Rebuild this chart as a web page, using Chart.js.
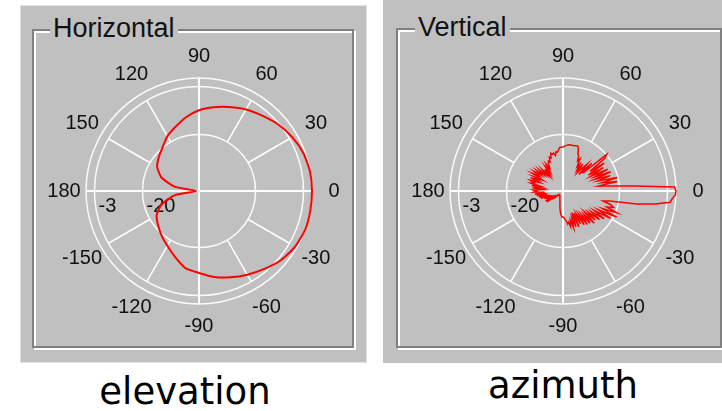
<!DOCTYPE html>
<html>
<head>
<meta charset="utf-8">
<script src="https://cdn.jsdelivr.net/npm/chart.js@4.4.1/dist/chart.umd.min.js"></script>
<style>
  body { margin: 0; width: 722px; height: 411px; background: #fff; position: relative; overflow: hidden;
         font-family: "Liberation Sans", Arial, sans-serif; }
  .panel { position: absolute; background: #c0c0c0; box-sizing: border-box; }
  .etch { position: absolute; box-sizing: border-box; border: 2px solid #808080; }
  .etch.hi { border-color: #fff; }
  .title { position: absolute; background: #c0c0c0; font-size: 27px; line-height: 27px; color: #111; padding: 0 3px; }
  .cap { position: absolute; font-family: "DejaVu Sans", sans-serif; font-size: 37px; line-height: 40px;
         color: #000; width: 300px; text-align: center; }
  canvas { position: absolute; }
</style>
</head>
<body>
<div class="panel" style="left:20px;top:5px;width:347px;height:358px;border:1px solid #e2e2e2;"></div>
<div class="etch hi" style="left:34px;top:31px;width:322px;height:319px;"></div>
<div class="etch" style="left:32px;top:29px;width:322px;height:319px;"></div>
<div class="title" style="left:50px;top:15px;">Horizontal</div>

<div class="panel" style="left:383px;top:0px;width:339px;height:363px;"></div>
<div class="etch hi" style="left:398px;top:30px;width:326px;height:320px;"></div>
<div class="etch" style="left:396px;top:28px;width:326px;height:320px;"></div>
<div class="title" style="left:415px;top:14px;">Vertical</div>

<canvas id="elev" width="340" height="340" style="left:29px;top:21px;"></canvas>
<canvas id="azim" width="340" height="340" style="left:393px;top:21px;"></canvas>

<div class="cap" style="left:35px;top:372px;">elevation</div>
<div class="cap" style="left:413px;top:366px;">azimuth</div>

<script>
// gain in dB, angle counted counter-clockwise from 0 (right)
const horizStep = 10;
const horizGain = [0, -0.1, -0.7, -1.9, -3.4, -5.2, -6.7, -8.4, -9.9, -11.4,
  -13.5, -15.8, -17.6, -19.9, -21.4, -22.9, -25.8, -31.2, -39, -31.2,
  -25.8, -22.7, -21.1, -19.4, -17.6, -15.2, -12.3, -11, -9.1, -7.5,
  -5.8, -4, -2, -0.7, 0, 0];

const vertStep = 2;
const vertGain = [0, -0.5, -14.6, -23.2, -27.3, -20.6, -25.9, -20.2, -27.1, -22.4,
  -28.2, -21.8, -27.6, -22.4, -28.8, -23.5, -29.4, -22.4, -28.2, -21.2,
  -19.8, -30.6, -25.9, -31.8, -27.1, -29.4, -31.8, -28.2, -31.2, -28.8,
  -30, -27.1, -28.2, -26.4, -25.9, -24.1, -23.2, -23.3, -23.5, -23.5,
  -23.5, -23.5, -23.6, -23.9, -24.1, -24.4, -24.5, -24.5, -25.3, -26.1,
  -25.9, -27.1, -26.1, -26.5, -26, -27.6, -27.1, -28.8, -28.2, -29.1,
  -30.6, -28.8, -31.8, -29.4, -32.4, -30, -32.9, -29.6, -31.8, -28.8,
  -31.2, -28.2, -30.6, -27.6, -30, -27.5, -31.8, -28.2, -30.6, -27.6,
  -31.2, -27.9, -29.4, -28.2, -31.8, -28.8, -32.4, -29.2, -32.9, -29.4,
  -30.6, -29.6, -33.5, -30, -32.9, -30.6, -34.1, -31.2, -34.7, -31.8,
  -35.3, -32.9, -35.9, -33.5, -36.5, -32.9, -37.1, -33.1, -36.5, -35.3,
  -37.1, -37.6, -37.9, -38, -38.1, -38.2, -38.2, -38.1, -38, -37.9,
  -37.9, -37.6, -37.4, -37.2, -37.1, -36.8, -36.5, -36.1, -35.5, -34.7,
  -33.9, -32.9, -32, -31.2, -30.8, -30.8, -30.6, -30, -29.4, -28.2,
  -28.8, -27.1, -29.4, -26.5, -30, -26.5, -31.8, -26.1, -31.2, -26.8,
  -30.6, -25.9, -30, -25.3, -29.4, -25.1, -28.8, -24.1, -29.4, -24.7,
  -28.2, -23.6, -27.6, -22.4, -27.1, -20.6, -25.9, -18.9, -24.7, -19.4,
  -23.5, -21.2, -22.4, -25.4, -23.1, -13.5, -7.1, -1.9, -1.2, -0.2];

const angleTicks = [0, 30, 60, 90, 120, 150, 180, -150, -120, -90, -60, -30];
const ringValues = [-40, -20, -3, 0];
const ringLabels = ['-20', '-3'];
const ringLabelValues = [-20, -3];

// radar runs clockwise from the right, so index i sits at angle -i*step
function toRadar(gain, step) {
  const n = gain.length;
  const labels = [], data = [];
  for (let i = 0; i < n; i++) {
    let a = -i * step;
    if (a <= -180) a += 360;
    labels.push(String(a));
    data.push(gain[(n - i) % n]);
  }
  return { labels, data };
}

const polarDecor = {
  id: 'polarDecor',
  beforeDatasetsDraw(chart) {
    const s = chart.scales.r;
    const ctx = chart.ctx;
    const n = chart.data.labels.length;
    const step = 360 / n;
    ctx.save();
    ctx.strokeStyle = '#fff';
    angleTicks.forEach(a => {
      const i = ((Math.round(-a / step) % n) + n) % n;
      const full = a % 90 === 0;
      const p0 = s.getPointPositionForValue(i, full ? -40 : -20);
      const p1 = s.getPointPositionForValue(i, full ? 0 : -3);
      ctx.lineWidth = full ? 2 : 1.5;
      ctx.beginPath();
      ctx.moveTo(p0.x, p0.y);
      ctx.lineTo(p1.x, p1.y);
      ctx.stroke();
    });
    ctx.fillStyle = '#111';
    ctx.font = '20px "Liberation Sans", Arial, sans-serif';
    ctx.textAlign = 'center';
    ctx.textBaseline = 'middle';
    angleTicks.forEach(a => {
      const i = ((Math.round(-a / step) % n) + n) % n;
      const p = s.getPointPosition(i, s.drawingArea + 22);
      ctx.fillText(String(a), p.x, p.y);
    });
    ctx.textAlign = 'left';
    ringLabels.forEach((t, k) => {
      const d = s.getDistanceFromCenterForValue(ringLabelValues[k]);
      ctx.fillText(t, s.xCenter - d + 4, s.yCenter + 15);
    });
    ctx.restore();
  }
};

function polarChart(id, gain, step, width) {
  const r = toRadar(gain, step);
  return new Chart(document.getElementById(id), {
    type: 'radar',
    data: {
      labels: r.labels,
      datasets: [{
        data: r.data,
        borderColor: '#ff0000',
        borderWidth: width,
        fill: false,
        pointRadius: 0,
        tension: step > 5 ? 0.2 : 0
      }]
    },
    options: {
      responsive: false,
      devicePixelRatio: 1,
      animation: false,
      layout: { padding: 57 },
      plugins: { legend: { display: false }, tooltip: { enabled: false } },
      scales: {
        r: {
          min: -40,
          max: 0,
          startAngle: 90,
          ticks: { display: false },
          afterBuildTicks: sc => { sc.ticks = ringValues.map(v => ({ value: v })); },
          grid: { circular: true, color: 'rgba(255,255,255,0.92)', lineWidth: 1.5 },
          angleLines: { display: false },
          pointLabels: { display: false }
        }
      }
    },
    plugins: [polarDecor]
  });
}

polarChart('elev', horizGain, horizStep, 2);
polarChart('azim', vertGain, vertStep, 1.5);
</script>
</body>
</html>
